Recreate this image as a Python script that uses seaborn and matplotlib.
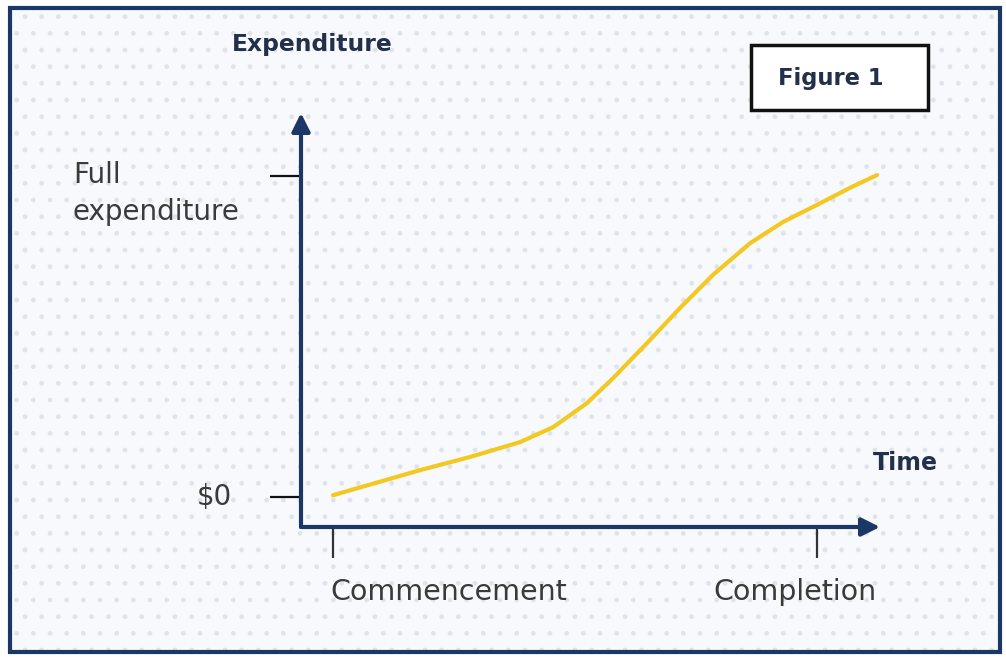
import matplotlib
matplotlib.use("Agg")
import matplotlib.pyplot as plt
import matplotlib.patches as patches
import pandas as pd
import seaborn as sns

# values (0 = commencement / $0, 1 = completion / full)
time_pts = [0.0, 0.180, 0.283, 0.386, 0.455, 0.525, 0.579, 0.649, 0.717,
            0.785, 0.862, 0.930, 1.0, 1.068, 1.124]
spend_pts = [0.006, 0.084, 0.125, 0.171, 0.218, 0.293, 0.371, 0.480, 0.589,
             0.692, 0.791, 0.857, 0.910, 0.963, 1.003]
x_ticks = [0, 1]
x_labels = ["Commencement", "Completion"]
y_ticks = [0, 1]
y_labels = ["$0", "Full", "expenditure"]

df = pd.DataFrame({"time": time_pts, "spend": spend_pts})

sns.set_style("white")
plt.rcParams['font.family'] = ['DejaVu Sans']
plt.rcParams['hatch.linewidth'] = 1.0

navy = "#1b3766"
text_dark = "#22304a"
label_col = "#3a3a3a"

fig = plt.figure(figsize=(10.06, 6.57), dpi=100)
fig.patch.set_facecolor("white")

# outer frame with light dotted background
bg = patches.Rectangle((10 / 1006, 5 / 657), 990 / 1006, 644 / 657,
                       transform=fig.transFigure, facecolor="#f8f9fc",
                       edgecolor="#dfe3ea", hatch=".", linewidth=0, zorder=-11)
fig.patches.append(bg)
frame = patches.Rectangle((10 / 1006, 5 / 657), 990 / 1006, 644 / 657,
                          transform=fig.transFigure, facecolor="none",
                          edgecolor=navy, linewidth=3, zorder=-10)
fig.patches.append(frame)

ax = fig.add_axes([301 / 1006, 130 / 657, 579 / 1006, 414 / 657])
ax.set_facecolor("none")
ax.set_xlim(-0.066, 1.13)
ax.set_ylim(-0.093, 1.196)

sns.lineplot(data=df, x="time", y="spend", ax=ax, color="#f2c821",
             linewidth=3.0, solid_capstyle="round", solid_joinstyle="round")

for s in ax.spines.values():
    s.set_visible(False)

# axis arrows
ax.annotate("", xy=(1.0, 0), xytext=(0, 0), xycoords="axes fraction",
            arrowprops=dict(arrowstyle="-|>,head_length=1.1,head_width=0.55",
                            color=navy, lw=3, shrinkA=0, shrinkB=0))
ax.annotate("", xy=(0, 1.0), xytext=(0, 0), xycoords="axes fraction",
            arrowprops=dict(arrowstyle="-|>,head_length=1.1,head_width=0.55",
                            color=navy, lw=3, shrinkA=0, shrinkB=0))

ax.set_xticks(x_ticks)
ax.set_xticklabels(["", ""])
ax.set_yticks(y_ticks)
ax.set_yticklabels(["", ""])
ax.tick_params(axis="x", direction="out", length=22, width=1.6,
               colors="#333333", bottom=True)
ax.tick_params(axis="y", direction="out", length=22, width=1.6,
               colors="#111111", left=True)
ax.set_xlabel("")
ax.set_ylabel("")

# tick labels placed by hand to match the layout
xt = ax.get_xaxis_transform()
ax.text(x_ticks[0] - 0.006, -0.157, x_labels[0], ha="left", va="center",
        fontsize=20.5, color=label_col, transform=xt)
ax.text(x_ticks[1] - 0.215, -0.157, x_labels[1], ha="left", va="center",
        fontsize=20.5, color=label_col, transform=xt)

yt = ax.get_yaxis_transform()
ax.text(-0.119, y_ticks[0], y_labels[0], ha="right", va="center",
        fontsize=20, color=label_col, transform=yt)
ax.text(-0.394, y_ticks[1] + 0.003, y_labels[1], ha="left", va="center",
        fontsize=20, color=label_col, transform=yt)
ax.text(-0.394, y_ticks[1] - 0.112, y_labels[2], ha="left", va="center",
        fontsize=20, color=label_col, transform=yt)

fig.text(232 / 1006, 1 - 45 / 657, "Expenditure", ha="left", va="center",
         fontsize=16.8, fontweight="bold", color=text_dark)
fig.text(873 / 1006, 1 - 463 / 657, "Time", ha="left", va="center",
         fontsize=17, fontweight="bold", color=text_dark)

# Figure 1 box
box = patches.Rectangle((751 / 1006, 1 - 110 / 657), 177 / 1006, 65 / 657,
                        transform=fig.transFigure, facecolor="white",
                        edgecolor="#111111", linewidth=2.5, zorder=2)
fig.patches.append(box)
fig.text(831 / 1006, 1 - 78 / 657, "Figure 1", ha="center", va="center",
         fontsize=16.3, fontweight="bold", color=text_dark, zorder=3)

fig.savefig("out.png", dpi=100)
